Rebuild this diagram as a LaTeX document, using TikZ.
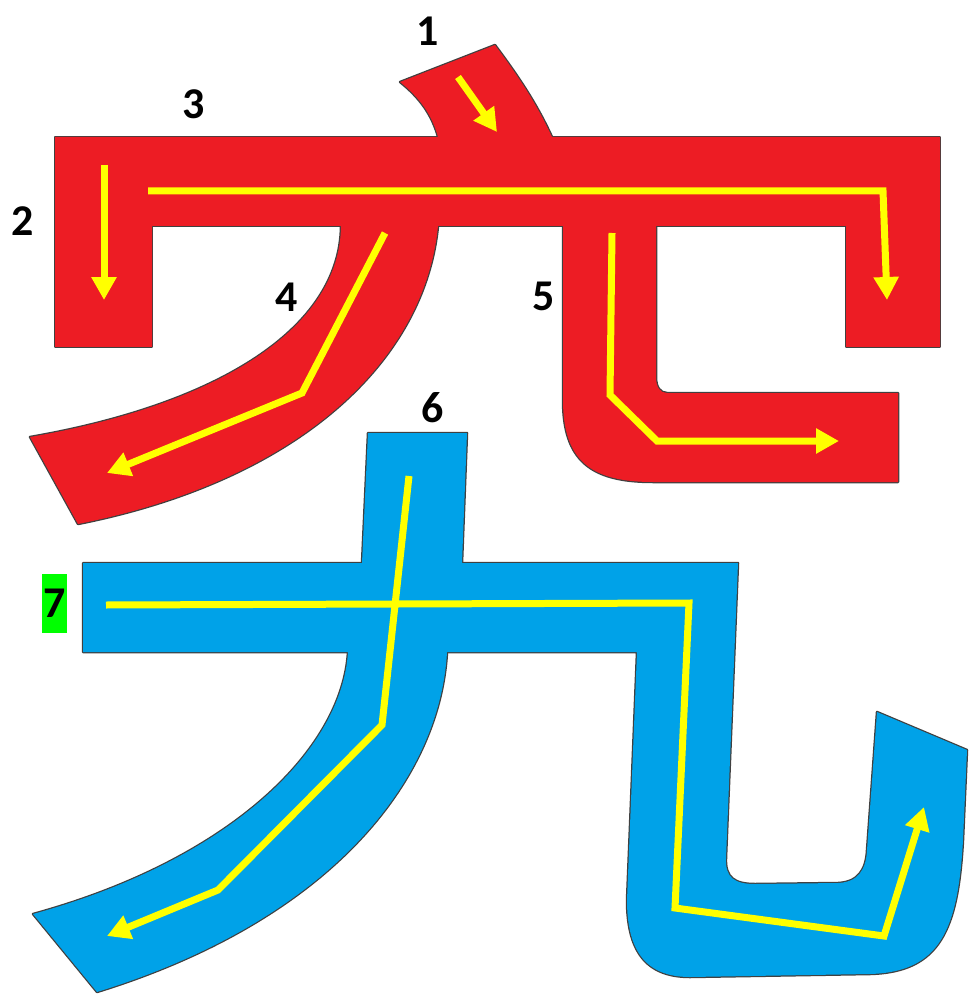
\documentclass[tikz,border=0pt]{standalone}
\usepackage{fontspec}
\setmainfont{Carlito}
\usetikzlibrary{arrows.meta}
\definecolor{rd}{HTML}{ED1C24}
\definecolor{bl}{HTML}{00A2E8}
\definecolor{yl}{HTML}{FFFF00}
\definecolor{gn}{HTML}{00FF00}
% outlines of the strokes (pixel units, y downwards)
\newcommand{\shpDot}{(400,82) -- (495,45) .. controls (515,72) and (535,100) .. (552,137) -- (556,148) -- (440,148) -- (438,137) .. controls (432,115) and (420,98) .. (400,82) -- cycle}
\newcommand{\shpRoof}{(55,137) -- (940,137) -- (940,347) -- (846,347) -- (846,226) -- (152,226) -- (152,347) -- (55,347) -- cycle}
\newcommand{\shpPie}{(341,215) -- (438,215) -- (438,226) .. controls (425,360) and (300,480) .. (78,524) -- (30,437) .. controls (215,405) and (340,330) .. (341,226) -- cycle}
\newcommand{\shpWan}{(563,215) -- (563,400) .. controls (563,460) and (590,482) .. (653,482) -- (898,482) -- (898,393) -- (667,393) .. controls (660,393) and (656,387) .. (656,377) -- (656,215) -- cycle}
\newcommand{\shpJiuA}{(368,433) -- (467,433) -- (462,563) -- (447,652) .. controls (440,780) and (330,920) .. (97,992) -- (33,914) .. controls (230,860) and (342,750) .. (348,652) -- (362,563) -- cycle}
\newcommand{\shpJiuB}{(83,563) -- (738,563) -- (726,858) .. controls (725,878) and (735,884) .. (755,884) -- (838,883) .. controls (858,882) and (866,870) .. (867,850) -- (877,712) -- (967,750) -- (963,840) .. controls (958,930) and (940,972) .. (870,974) -- (690,977) .. controls (645,977) and (627,950) .. (627,900) -- (637,652) -- (83,652) -- cycle}

\begin{document}
\begin{tikzpicture}[x=0.02cm, y=-0.02cm,
  outline/.style={draw=black!75, line width=0.05cm, line join=round},
  guide/.style={draw=yl, line width=0.14cm, -{Triangle[length=0.46cm,width=0.48cm]}},
  num/.style={font=\fontsize{25}{25}\selectfont\bfseries, inner sep=0pt}]
  \useasboundingbox (0,0) rectangle (969,996);

  % red part
  \draw[outline] \shpDot; \draw[outline] \shpRoof;
  \draw[outline] \shpPie; \draw[outline] \shpWan;
  \fill[rd] \shpDot; \fill[rd] \shpRoof;
  \fill[rd] \shpPie; \fill[rd] \shpWan;

  % blue part
  \draw[outline] \shpJiuA; \draw[outline] \shpJiuB;
  \fill[bl] \shpJiuA; \fill[bl] \shpJiuB;

  % stroke directions
  \draw[guide] (458,77) -- (497,132);
  \draw[guide] (104,165) -- (104,300);
  \draw[guide] (148,191) -- (883,191) -- (887,300);
  \draw[guide] (385,233) -- (302,393) -- (107,473);
  \draw[guide] (612,233) -- (610,395) -- (657,441) -- (839,441);
  \draw[guide] (409,476) -- (382,725) -- (218,890) -- (107,936);
  \draw[guide] (106,605) -- (689,603) -- (675,908) -- (884,936) -- (924,807);

  % stroke numbers
  \node[num] (n1) at (428,31) {1};
  \node[num] (n2) at (23,221) {2};
  \node[num] (n3) at (194,104) {3};
  \node[num] (n4) at (287,297) {4};
  \node[num] (n5) at (544,296) {5};
  \node[num] (n6) at (433,408) {6};
  \node[num, fill=gn, minimum width=0.5cm, minimum height=1.18cm] (n7) at (54.5,603.5) {7};
\end{tikzpicture}
\end{document}
